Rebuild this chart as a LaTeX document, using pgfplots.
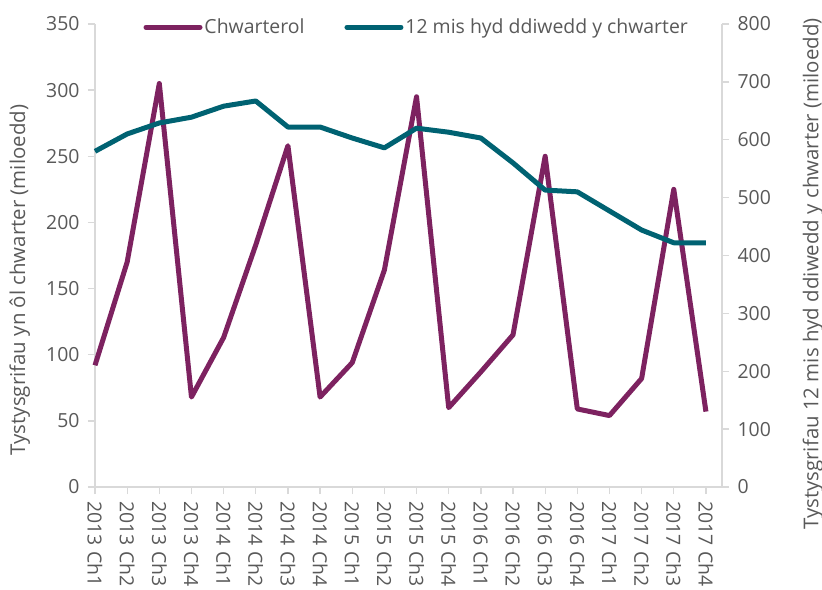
\documentclass[border=0pt]{standalone}
\usepackage{pgfplots}
\pgfplotsset{compat=1.18}
\usepackage{pgfplotstable}
\usepackage{fontspec}
\setmainfont{Open Sans}
\definecolor{cpurple}{RGB}{125,34,96}
\definecolor{cteal}{RGB}{0,98,114}
\definecolor{axgray}{RGB}{217,217,217}
\definecolor{txtgray}{RGB}{89,89,89}

\pgfplotstableread{
x q
0 92
1 170
2 305
3 68
4 113
5 183
6 258
7 68
8 94
9 164
10 295
11 60
12 87
13 115
14 250
15 59
16 54
17 82
18 225
19 57
}\quarterly

\pgfplotstableread{
x r
0 580
1 610
2 629
3 639
4 658
5 667
6 622
7 622
8 603
9 586
10 620
11 613
12 603
13 560
14 513
15 510
16 477
17 444
18 422
19 422
}\rolling

\begin{document}
\begin{tikzpicture}
\path[use as bounding box] (-95bp,-103bp) rectangle (727bp,487bp);
\pgfplotsset{every axis/.append style={
  scale only axis, width=627bp, height=463bp,
  xmin=0, xmax=19.5,
  font=\fontsize{19.5}{23}\selectfont,
  /pgf/number format/assume math mode=true,
  tick style={axgray, line width=1.3bp},
  tick align=outside, major tick length=7bp,
  tick label style={txtgray},
  label style={txtgray, font=\fontsize{20.5}{24}\selectfont},
  axis line style={axgray, line width=1.3bp},
  clip=false,
}}
\begin{axis}[
  axis x line*=bottom, axis y line*=left,
  ymin=0, ymax=350, ytick={0,50,...,350},
  y tick label style={xshift=-5bp},
  xtick={0,...,19},
  xticklabels={2013 Ch1,2013 Ch2,2013 Ch3,2013 Ch4,2014 Ch1,2014 Ch2,2014 Ch3,2014 Ch4,2015 Ch1,2015 Ch2,2015 Ch3,2015 Ch4,2016 Ch1,2016 Ch2,2016 Ch3,2016 Ch4,2017 Ch1,2017 Ch2,2017 Ch3,2017 Ch4},
  x tick label style={rotate=-90, anchor=west, xshift=4bp},
  ylabel={Tystysgrifau yn ôl chwarter (miloedd)},
  ylabel style={at={(axis description cs:-0.12,0.447)}, anchor=center},
  legend columns=2,
  legend style={draw=none, fill=none, at={(axis description cs:0.513,0.993)}, anchor=center, font=\fontsize{19.5}{23}\selectfont, text=txtgray, /tikz/every even column/.append style={column sep=38bp}},
  legend cell align=left,
  legend image code/.code={\draw[#1, line width=5bp, line cap=round] (0bp,0bp) -- (54bp,0bp);},
]
\addplot[cpurple, line width=5bp, line join=round] table[x=x, y=q] {\quarterly};
\addlegendentry{Chwarterol}
\addlegendimage{cteal, line width=5bp}
\addlegendentry{12 mis hyd ddiwedd y chwarter}
\end{axis}
\begin{axis}[
  axis x line=none, axis y line*=right,
  ymin=0, ymax=800, ytick={0,100,...,800},
  y tick label style={xshift=5bp},
  ylabel={Tystysgrifau 12 mis hyd ddiwedd y chwarter (miloedd)},
  ylabel style={at={(axis description cs:1.145,0.46)}, anchor=center},
]
\addplot[cteal, line width=5bp, line join=round] table[x=x, y=r] {\rolling};
\end{axis}
\end{tikzpicture}
\end{document}
